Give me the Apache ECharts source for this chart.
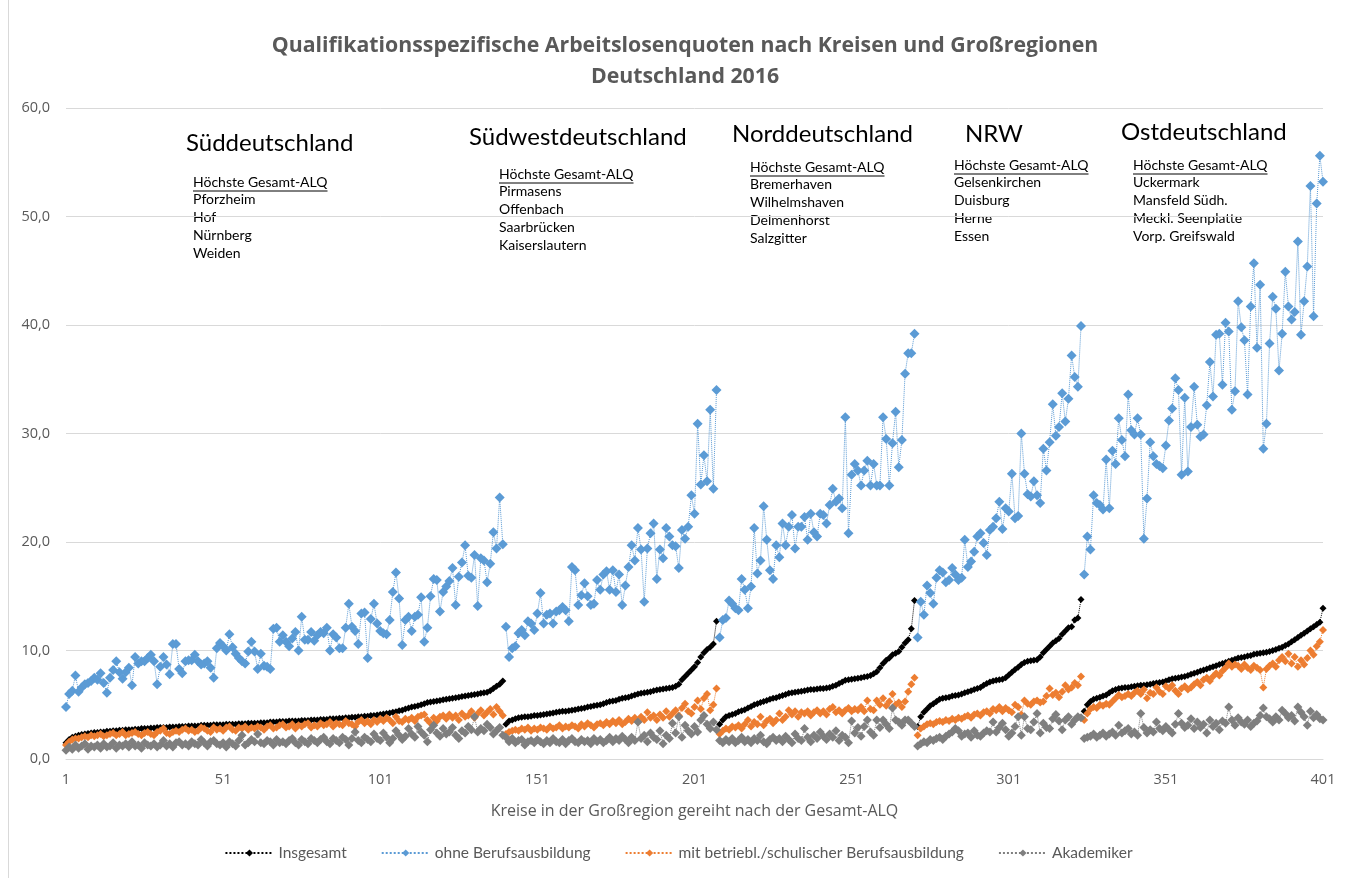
<!DOCTYPE html>
<html>
<head>
<meta charset="utf-8">
<title>Qualifikationsspezifische Arbeitslosenquoten 2016</title>
<script src="https://cdn.jsdelivr.net/npm/echarts@6/dist/echarts.min.js"></script>
<style>
  html, body { margin: 0; padding: 0; background: #fff; }
  #chart { width: 1357px; height: 878px; }
</style>
</head>
<body>
<div id="chart"></div>
<script>
  // Kreise 1..401, innerhalb jeder Großregion nach Gesamt-ALQ sortiert
  var regionStarts = [1, 141, 209, 272, 325]
  var regionEnds = [140, 208, 271, 324, 401]
  var xTickLabels = ['1', '51', '101', '151', '201', '251', '301', '351', '401']

  var insgesamt = [
    // Süddeutschland
    1.5, 1.8, 2.0, 2.1, 2.2, 2.25, 2.3, 2.35, 2.4, 2.45,
    2.45, 2.5, 2.5, 2.55, 2.55, 2.6, 2.6, 2.65, 2.65, 2.7,
    2.7, 2.7, 2.75, 2.75, 2.8, 2.8, 2.8, 2.85, 2.85, 2.9,
    2.9, 2.9, 2.9, 2.95, 2.95, 2.95, 3.0, 3.0, 3.0, 3.05,
    3.05, 3.05, 3.05, 3.1, 3.1, 3.1, 3.1, 3.15, 3.15, 3.15,
    3.15, 3.2, 3.2, 3.2, 3.2, 3.25, 3.25, 3.25, 3.3, 3.3,
    3.3, 3.3, 3.35, 3.35, 3.35, 3.4, 3.4, 3.4, 3.45, 3.45,
    3.45, 3.5, 3.5, 3.5, 3.5, 3.55, 3.55, 3.55, 3.6, 3.6,
    3.6, 3.65, 3.65, 3.65, 3.7, 3.7, 3.7, 3.75, 3.75, 3.8,
    3.8, 3.85, 3.85, 3.9, 3.9, 3.95, 3.95, 4.0, 4.0, 4.05,
    4.1, 4.15, 4.2, 4.25, 4.3, 4.35, 4.45, 4.5, 4.6, 4.7,
    4.8, 4.85, 4.9, 5.0, 5.1, 5.2, 5.25, 5.3, 5.35, 5.4,
    5.45, 5.5, 5.55, 5.6, 5.65, 5.7, 5.75, 5.8, 5.85, 5.9,
    5.95, 6.0, 6.05, 6.1, 6.15, 6.3, 6.5, 6.7, 6.9, 7.2,
    // Südwestdeutschland
    3.2, 3.5, 3.6, 3.7, 3.8, 3.85, 3.9, 3.9, 3.95, 4.0,
    4.0, 4.05, 4.1, 4.15, 4.2, 4.25, 4.3, 4.35, 4.4, 4.4,
    4.45, 4.5, 4.55, 4.6, 4.65, 4.7, 4.8, 4.85, 4.9, 4.95,
    5.0, 5.1, 5.2, 5.3, 5.35, 5.4, 5.5, 5.6, 5.65, 5.7,
    5.8, 5.9, 6.0, 6.05, 6.1, 6.15, 6.2, 6.3, 6.35, 6.4,
    6.45, 6.5, 6.55, 6.6, 6.7, 6.9, 7.3, 7.6, 7.9, 8.2,
    8.5, 8.9, 9.4, 9.8, 10.1, 10.3, 10.6, 12.7,
    // Norddeutschland
    3.2, 3.6, 3.9, 4.0, 4.1, 4.2, 4.35, 4.45, 4.55, 4.7,
    4.85, 5.0, 5.1, 5.2, 5.3, 5.4, 5.5, 5.6, 5.65, 5.75,
    5.85, 5.95, 6.05, 6.1, 6.15, 6.2, 6.25, 6.3, 6.35, 6.4,
    6.4, 6.45, 6.5, 6.5, 6.55, 6.6, 6.7, 6.8, 6.95, 7.1,
    7.25, 7.3, 7.35, 7.4, 7.45, 7.5, 7.55, 7.6, 7.7, 7.85,
    8.05, 8.4, 8.8, 9.1, 9.3, 9.6, 9.75, 9.9, 10.3, 10.7,
    11.0, 12.0, 14.6,
    // NRW
    3.0, 3.9, 4.3, 4.6, 4.9, 5.1, 5.3, 5.5, 5.6, 5.65,
    5.7, 5.8, 5.85, 5.9, 6.0, 6.1, 6.2, 6.3, 6.4, 6.5,
    6.6, 6.8, 6.95, 7.1, 7.2, 7.25, 7.3, 7.35, 7.5, 7.75,
    8.0, 8.25, 8.45, 8.7, 8.9, 9.0, 9.05, 9.1, 9.15, 9.4,
    9.8, 10.1, 10.4, 10.7, 10.9, 11.1, 11.5, 11.8, 12.1, 12.2,
    12.8, 13.0, 14.7,
    // Ostdeutschland
    4.4, 5.0, 5.3, 5.5, 5.6, 5.7, 5.8, 5.9, 6.1, 6.3,
    6.4, 6.5, 6.55, 6.6, 6.6, 6.65, 6.7, 6.75, 6.8, 6.8,
    6.85, 6.9, 6.95, 7.0, 7.05, 7.1, 7.2, 7.3, 7.4, 7.45,
    7.5, 7.55, 7.6, 7.7, 7.8, 7.9, 8.0, 8.1, 8.2, 8.3,
    8.4, 8.5, 8.6, 8.7, 8.8, 8.9, 9.0, 9.1, 9.2, 9.3,
    9.35, 9.4, 9.5, 9.55, 9.65, 9.7, 9.75, 9.8, 9.85, 9.9,
    10.0, 10.1, 10.2, 10.3, 10.45, 10.6, 10.8, 11.0, 11.2, 11.4,
    11.6, 11.8, 12.0, 12.2, 12.4, 12.6, 13.9
  ]

  var ohneBA = [
    // Süddeutschland
    4.8, 6.0, 6.3, 7.7, 6.2, 6.6, 6.9, 7.0, 7.2, 7.5,
    7.3, 7.9, 7.0, 6.1, 7.5, 8.2, 9.0, 8.0, 7.4, 8.0,
    8.4, 6.8, 9.4, 8.8, 9.0, 9.0, 9.3, 9.6, 9.0, 6.9,
    8.5, 9.4, 8.7, 7.8, 10.6, 10.6, 8.3, 7.9, 9.0, 9.1,
    9.1, 9.6, 9.0, 8.7, 8.8, 9.0, 8.4, 7.5, 10.2, 10.7,
    10.4, 10.0, 11.5, 10.3, 9.7, 9.3, 9.0, 8.8, 9.9, 10.8,
    9.9, 8.3, 9.7, 8.6, 8.5, 8.3, 12.0, 12.1, 10.8, 11.4,
    10.8, 10.4, 11.1, 11.7, 10.0, 13.1, 11.0, 11.0, 11.7, 10.9,
    11.4, 11.7, 11.6, 12.1, 10.0, 11.5, 11.2, 10.2, 10.2, 12.1,
    14.3, 12.2, 11.8, 10.6, 13.4, 13.5, 9.3, 12.9, 14.3, 12.5,
    11.8, 11.6, 11.5, 12.8, 15.4, 17.2, 14.8, 10.5, 12.8, 13.1,
    11.8, 13.1, 13.3, 14.9, 10.8, 12.1, 15.0, 16.6, 16.5, 13.6,
    15.4, 15.9, 16.4, 17.6, 14.2, 16.8, 18.1, 19.7, 16.9, 16.7,
    18.8, 14.1, 18.5, 18.3, 16.3, 18.0, 20.9, 19.4, 24.1, 19.8,
    // Südwestdeutschland
    12.2, 9.4, 10.2, 10.4, 11.6, 11.9, 11.4, 12.7, 12.5, 11.9,
    13.4, 15.3, 12.5, 13.3, 13.4, 12.5, 13.6, 13.7, 14.0, 13.7,
    12.7, 17.7, 17.4, 14.2, 15.1, 16.2, 15.0, 14.2, 14.3, 16.5,
    15.6, 17.0, 17.3, 15.6, 17.4, 15.4, 17.0, 14.2, 16.0, 17.7,
    19.7, 18.3, 21.3, 19.3, 14.5, 19.4, 20.8, 21.7, 16.6, 19.3,
    18.5, 21.3, 20.5, 19.7, 19.6, 17.6, 21.1, 20.3, 21.4, 24.3,
    22.6, 30.9, 25.3, 28.0, 25.6, 32.2, 24.9, 34.0,
    // Norddeutschland
    11.2, 12.8, 13.0, 14.6, 14.3, 13.9, 13.7, 16.6, 15.6, 13.9,
    15.9, 21.3, 17.1, 18.3, 23.3, 20.2, 17.4, 16.6, 19.7, 18.6,
    21.7, 19.7, 21.4, 22.5, 19.4, 21.4, 21.4, 22.3, 20.2, 22.6,
    20.9, 20.5, 22.6, 22.5, 21.7, 23.4, 24.9, 23.7, 24.0, 23.1,
    31.5, 20.8, 26.2, 27.2, 26.6, 25.2, 26.6, 27.5, 25.2, 27.2,
    25.2, 25.2, 31.5, 29.5, 25.2, 29.1, 32.0, 26.9, 29.4, 35.5,
    37.4, 37.4, 39.2,
    // NRW
    11.2, 14.5, 13.3, 16.0, 15.3, 14.3, 16.7, 17.4, 17.2, 16.3,
    16.5, 17.6, 17.0, 16.5, 16.7, 20.2, 17.7, 18.2, 19.1, 20.5,
    20.8, 19.9, 18.8, 21.1, 21.4, 22.2, 23.7, 21.2, 23.1, 22.8,
    26.3, 22.2, 22.4, 30.0, 26.3, 24.4, 24.2, 25.6, 24.3, 23.6,
    28.6, 26.6, 29.2, 32.7, 29.8, 30.6, 33.7, 31.1, 33.2, 37.2,
    35.2, 34.3, 39.9,
    // Ostdeutschland
    17.0, 20.5, 19.3, 24.3, 23.6, 23.4, 23.0, 27.6, 23.1, 28.4,
    27.2, 31.4, 29.4, 27.9, 33.6, 30.3, 29.9, 31.4, 29.9, 20.3,
    24.0, 29.2, 27.9, 27.2, 27.0, 26.8, 28.9, 31.2, 32.3, 35.1,
    34.0, 26.2, 33.3, 26.5, 30.6, 34.3, 30.8, 29.7, 29.9, 32.6,
    36.6, 33.4, 39.1, 39.2, 34.5, 40.2, 39.4, 32.2, 33.9, 42.2,
    39.8, 38.6, 33.6, 41.7, 45.7, 37.9, 43.7, 28.6, 30.9, 38.3,
    42.6, 41.5, 35.8, 39.2, 44.9, 41.7, 40.5, 41.2, 47.7, 39.1,
    42.2, 45.4, 52.8, 40.8, 51.2, 55.6, 53.2
  ]

  var mitBA = [
    // Süddeutschland
    1.3, 1.6, 1.8, 1.9, 1.9, 2.0, 2.1, 2.0, 2.2, 2.1,
    2.2, 2.3, 2.1, 2.2, 2.3, 2.4, 2.2, 2.3, 2.5, 2.2,
    2.3, 2.4, 2.5, 2.3, 2.2, 2.4, 2.5, 2.3, 2.2, 2.5,
    2.6, 2.8, 2.4, 2.3, 2.5, 2.6, 2.5, 2.7, 2.8, 2.6,
    2.7, 2.5, 2.6, 2.9, 2.8, 2.6, 2.5, 2.9, 2.7, 2.8,
    2.6, 2.9, 3.0, 2.7, 2.6, 2.9, 2.8, 3.0, 2.7, 2.9,
    2.8, 3.0, 2.9, 2.7, 3.0, 3.1, 2.8, 2.9, 3.1, 3.2,
    2.9, 3.0, 3.2, 2.8, 3.1, 3.0, 3.2, 3.3, 2.9, 3.1,
    3.0, 3.3, 3.1, 3.2, 3.4, 3.0, 3.3, 3.2, 3.1, 3.5,
    3.3, 3.2, 3.0, 3.4, 3.6, 3.3, 3.5, 3.2, 3.6, 3.4,
    3.7, 3.5, 3.8, 3.6, 3.3, 3.9, 3.5, 3.4, 3.7, 3.6,
    3.8, 3.5, 3.9, 4.0, 4.1, 3.6, 3.3, 3.8, 3.5, 3.9,
    4.0, 3.7, 4.1, 3.8, 4.0, 3.6, 4.2, 3.9, 4.0, 4.4,
    3.8, 4.2, 4.5, 4.0, 4.3, 4.6, 4.1, 4.8, 4.4, 4.0,
    // Südwestdeutschland
    2.3, 2.5, 2.6, 2.7, 2.6, 2.8, 2.7, 2.9, 2.6, 2.8,
    2.7, 2.9, 2.8, 2.7, 3.0, 2.8, 2.9, 3.1, 2.8, 3.0,
    2.9, 3.1, 3.0, 2.8, 3.2, 3.0, 3.3, 3.1, 2.9, 3.2,
    3.3, 3.1, 3.4, 3.2, 3.5, 3.3, 3.6, 3.2, 3.4, 3.7,
    3.5, 3.8, 3.4, 3.9, 3.6, 4.3, 3.8, 4.0, 3.6, 4.1,
    3.8, 4.4, 3.9, 4.2, 4.5, 4.0, 4.7, 5.1, 4.4, 4.2,
    4.8, 5.4, 4.6, 5.6, 6.0, 4.5, 5.0, 6.5,
    // Norddeutschland
    2.3, 2.6, 2.8, 2.7, 3.0, 2.9, 3.1, 2.8, 3.2, 3.6,
    3.0, 3.4, 3.2, 3.9, 3.1, 3.5, 3.7, 3.3, 3.6, 4.2,
    3.6, 3.9, 4.5, 4.1, 4.4, 3.9, 4.3, 4.2, 4.4, 4.0,
    4.3, 4.5, 4.2, 4.4, 4.1, 4.6, 4.8, 4.3, 4.5, 4.2,
    4.5, 4.7, 4.4, 4.6, 4.5, 4.8, 4.4, 5.4, 4.6, 4.5,
    5.4, 5.0, 5.6, 4.9, 5.3, 6.0, 5.0, 5.2, 4.8, 5.3,
    6.2, 6.9, 7.5,
    // NRW
    2.2, 2.8, 3.0, 3.2, 3.3, 3.2, 3.4, 3.5, 3.4, 3.6,
    3.5, 3.7, 3.6, 3.8, 3.7, 3.9, 4.0, 3.8, 4.1, 4.2,
    4.0, 4.3, 4.4, 4.2, 4.6, 4.5, 4.8, 4.4, 4.7, 4.5,
    4.3, 5.0, 4.8, 4.1, 5.4, 5.1, 5.0, 5.3, 5.4, 5.2,
    5.3, 5.8, 6.5, 5.9, 6.1, 5.7, 6.2, 6.8, 6.4, 6.6,
    7.0, 6.8, 7.6,
    // Ostdeutschland
    3.6, 4.2, 4.6, 4.8, 4.7, 5.0, 4.9, 5.1, 5.0, 5.3,
    5.6, 5.9, 5.7, 5.8, 6.0, 5.8, 6.1, 6.3, 6.0, 6.4,
    5.6, 6.1, 6.0, 6.6, 6.2, 6.0, 6.7, 6.5, 6.8, 6.3,
    6.0, 6.5, 6.7, 6.4, 6.6, 6.9, 7.1, 6.8, 7.3, 7.5,
    7.2, 7.6, 7.9, 7.7, 8.1, 8.4, 8.8, 8.5, 8.7, 8.6,
    8.3, 8.7, 8.4, 8.2, 8.6, 8.4, 8.2, 6.6, 8.3, 8.6,
    8.8, 8.5, 9.1, 9.4, 9.0, 9.7, 8.8, 9.4, 8.5, 9.1,
    8.7, 9.3, 10.0, 9.6, 10.4, 10.8, 11.9
  ]

  var akademiker = [
    // Süddeutschland
    0.8, 1.1, 0.9, 1.3, 1.0, 1.2, 1.4, 0.9, 1.2, 1.1,
    1.3, 1.0, 1.4, 1.1, 1.2, 1.5, 1.0, 1.3, 1.2, 1.4,
    1.1, 1.6, 1.2, 1.3, 1.0, 1.5, 1.3, 1.2, 1.4, 1.1,
    1.3, 1.7, 1.2, 1.4, 1.1, 1.5, 1.6, 1.3, 1.4, 1.2,
    1.6, 1.4, 1.3, 1.8, 1.5, 1.2, 1.6, 1.7, 1.4, 1.3,
    1.5, 1.1, 1.6, 1.4, 1.2, 1.7, 2.2, 1.3, 1.5, 1.8,
    1.6, 2.3, 1.5, 1.4, 1.7, 1.6, 1.3, 1.8, 1.5, 1.6,
    1.4, 1.7, 1.9, 1.5, 1.3, 1.8, 1.6, 1.4, 1.9, 1.7,
    1.5, 1.8, 2.0, 1.6, 1.4, 1.9, 1.7, 1.5, 2.0, 1.8,
    1.3, 1.9, 2.5, 1.7, 1.5, 2.0, 1.8, 1.6, 2.3, 1.9,
    1.7, 2.4, 2.0, 1.5, 1.9, 2.6, 2.2, 1.8, 2.1, 2.8,
    2.3, 2.0, 3.0, 2.5, 2.2, 1.6, 2.7, 3.1, 2.4, 2.1,
    2.8, 2.3, 2.5, 2.9, 2.2, 1.9, 2.6, 2.4, 3.0, 2.7,
    3.9, 2.5, 2.8, 2.6, 3.2, 2.9, 2.3, 2.6, 2.9, 2.2,
    // Südwestdeutschland
    2.0, 1.6, 1.9, 1.5, 1.7, 1.8, 1.3, 1.6, 1.7, 1.5,
    1.8, 1.6, 1.4, 1.7, 1.5, 1.9, 1.6, 1.5, 1.8, 1.4,
    1.7, 1.9, 1.6, 1.5, 1.8, 1.6, 1.7, 1.4, 1.9, 1.6,
    1.8, 1.5, 1.7, 2.0, 1.6, 1.9, 1.7, 2.1, 1.8, 1.5,
    2.0, 1.7, 3.4, 1.9, 2.2, 1.6, 2.4, 2.0, 1.8, 2.6,
    1.4, 2.2, 1.9, 3.3, 2.4, 3.9, 2.0, 3.1, 2.6, 2.3,
    3.0, 2.5, 3.6, 4.0, 3.2, 2.8, 3.4, 2.7,
    // Norddeutschland
    1.7, 1.5, 1.8, 1.6, 1.9, 1.5, 1.7, 2.0, 1.6, 1.8,
    1.5, 1.9, 1.7, 2.2, 1.6, 1.4, 1.8, 2.0, 1.7, 1.9,
    1.6, 2.1, 1.8, 1.5, 2.3, 1.9, 1.7, 2.8, 2.0, 1.6,
    2.2, 1.9, 2.5, 2.1, 1.8, 2.3, 2.0, 2.6, 1.7, 2.2,
    2.0, 1.5, 3.5, 2.4, 2.9, 2.1, 3.0, 3.6, 2.5, 2.2,
    3.6, 2.9, 3.6, 3.2, 2.8, 4.7, 3.6, 3.4, 3.1, 3.6,
    3.6, 3.3, 3.0,
    // NRW
    1.2, 1.4, 1.6, 1.5, 1.8, 1.7, 1.9, 2.0, 1.8, 2.1,
    2.3, 2.5, 2.8, 2.6, 2.1, 2.3, 2.4, 2.0, 2.6, 2.2,
    2.1, 2.4, 2.6, 2.5, 3.4, 2.5, 2.9, 3.3, 2.7, 2.1,
    2.4, 3.0, 3.9, 2.2, 3.9, 2.8, 2.7, 3.4, 4.2, 2.4,
    3.3, 2.9, 2.8, 3.7, 4.1, 3.5, 2.7, 3.6, 3.9, 3.2,
    3.6, 3.9, 3.8,
    // Ostdeutschland
    1.9, 2.0, 2.1, 2.3, 2.0, 2.2, 2.4, 2.1, 2.3, 2.5,
    2.2, 3.1, 2.4, 2.6, 2.8, 2.3, 2.5, 2.2, 4.2, 2.9,
    2.4, 2.7, 2.5, 3.4, 2.8, 2.6, 3.0, 2.7, 2.4, 3.2,
    4.2, 3.3, 2.9, 3.1, 3.7, 2.8, 3.4, 2.9, 3.2, 2.4,
    3.6, 3.0, 3.3, 2.7, 3.5, 3.3, 4.8, 3.6, 3.1, 3.8,
    3.4, 3.2, 3.6, 3.0, 3.3, 3.5, 4.0, 4.7, 3.9, 3.7,
    3.4, 3.9, 3.6, 4.5, 4.2, 3.8, 4.0, 3.5, 4.8, 4.3,
    3.9, 3.1, 4.4, 3.8, 4.1, 3.7, 3.6
  ]

  var regionNotes = [
    { name: 'Süddeutschland', nx: 186, ny: 143, hx: 193, hy: 182, items: ['Pforzheim', 'Hof', 'Nürnberg', 'Weiden'] },
    { name: 'Südwestdeutschland', nx: 469, ny: 137, hx: 499, hy: 174, items: ['Pirmasens', 'Offenbach', 'Saarbrücken', 'Kaiserslautern'] },
    { name: 'Norddeutschland', nx: 732, ny: 134, hx: 750, hy: 167, items: ['Bremerhaven', 'Wilhelmshaven', 'Delmenhorst', 'Salzgitter'] },
    { name: 'NRW', nx: 965, ny: 134, hx: 954, hy: 165, items: ['Gelsenkirchen', 'Duisburg', 'Herne', 'Essen'] },
    { name: 'Ostdeutschland', nx: 1121, ny: 132, hx: 1133, hy: 165, items: ['Uckermark', 'Mansfeld Südh.', 'Meckl. Seenplatte', 'Vorp. Greifswald'] }
  ]

  var kreise = []
  for (var k = 1; k <= 401; k++) kreise.push(String(k))

  var typeNames = ['Insgesamt', 'ohne Berufsausbildung', 'mit betriebl./schulischer Berufsausbildung', 'Akademiker']
  var typeData = [insgesamt, ohneBA, mitBA, akademiker]
  var typeColors = ['#000000', '#5B9BD5', '#ED7D31', '#7F7F7F']
  var typeSizes = [7, 10, 8, 9]

  var textFont = 'Lato'
  var measure = document.createElement('canvas').getContext('2d')
  measure.font = '14px ' + textFont
  var headerText = 'Höchste Gesamt-ALQ'
  var headerWidth = measure.measureText(headerText).width

  // eine Serie je Qualifikation und Großregion, damit die Linien zwischen den Regionen abbrechen
  var series = []
  typeData.forEach(function (vals, t) {
    regionStarts.forEach(function (start, r) {
      var data = []
      for (var i = start; i <= regionEnds[r]; i++) {
        data.push([i - 1, vals[i - 1]])
      }
      series.push({
        name: typeNames[t],
        type: 'line',
        data: data,
        symbol: 'diamond',
        symbolSize: typeSizes[t],
        showAllSymbol: true,
        itemStyle: { color: typeColors[t] },
        lineStyle: { type: 'dotted', width: 1, color: typeColors[t] },
        emphasis: { disabled: true }
      })
    })
  })

  var graphics = []
  regionNotes.forEach(function (n) {
    graphics.push({
      type: 'text', x: n.nx, y: n.ny,
      style: { text: n.name, font: '24px ' + textFont, fill: '#000', verticalAlign: 'middle' }
    })
    graphics.push({
      type: 'text', x: n.hx, y: n.hy,
      style: { text: headerText, font: '14px ' + textFont, fill: '#000', verticalAlign: 'middle' }
    })
    graphics.push({
      type: 'line',
      shape: { x1: n.hx, y1: n.hy + 9, x2: n.hx + headerWidth, y2: n.hy + 9 },
      style: { stroke: '#000', lineWidth: 1 }
    })
    n.items.forEach(function (item, j) {
      graphics.push({
        type: 'text', x: n.hx, y: n.hy + 17.5 + j * 18,
        style: { text: item, font: '14px ' + textFont, fill: '#000', verticalAlign: 'middle' }
      })
    })
  })
  graphics.push({
    type: 'line',
    shape: { x1: 8.5, y1: 0, x2: 8.5, y2: 878 },
    style: { stroke: '#d9d9d9', lineWidth: 1 }
  })

  var chart = echarts.init(document.getElementById('chart'))
  chart.setOption({
    animation: false,
    backgroundColor: '#fff',
    title: {
      text: 'Qualifikationsspezifische Arbeitslosenquoten nach Kreisen und Großregionen\nDeutschland 2016',
      left: 680,
      top: 25,
      textAlign: 'center',
      textStyle: {
        fontFamily: 'Open Sans',
        fontWeight: 'bold',
        fontSize: 21.3,
        lineHeight: 31,
        color: '#595959'
      }
    },
    grid: { left: 66, right: 34, top: 108, bottom: 119 },
    legend: {
      data: typeNames,
      bottom: 12,
      left: 'center',
      itemWidth: 48,
      itemHeight: 9,
      itemGap: 34,
      textStyle: { fontFamily: textFont, fontSize: 15.5, color: '#595959' }
    },
    xAxis: {
      type: 'category',
      data: kreise,
      boundaryGap: false,
      name: 'Kreise in der Großregion gereiht nach der Gesamt-ALQ',
      nameLocation: 'middle',
      nameGap: 44,
      nameTextStyle: { fontFamily: 'Open Sans', fontSize: 16, color: '#595959' },
      axisLine: { lineStyle: { color: '#d9d9d9' } },
      axisTick: { show: false },
      axisLabel: {
        interval: function (index, value) { return xTickLabels.indexOf(value) >= 0 },
        margin: 13,
        fontFamily: 'Open Sans',
        fontSize: 14.5,
        color: '#595959'
      }
    },
    yAxis: {
      type: 'value',
      min: 0,
      max: 60,
      interval: 10,
      axisLine: { show: false },
      axisTick: { show: false },
      splitLine: { lineStyle: { color: '#d9d9d9' } },
      axisLabel: {
        margin: 16,
        fontFamily: 'Open Sans',
        fontSize: 14.5,
        color: '#595959',
        formatter: function (v) { return v.toFixed(1).replace('.', ',') }
      }
    },
    graphic: graphics,
    series: series
  })
</script>
</body>
</html>
